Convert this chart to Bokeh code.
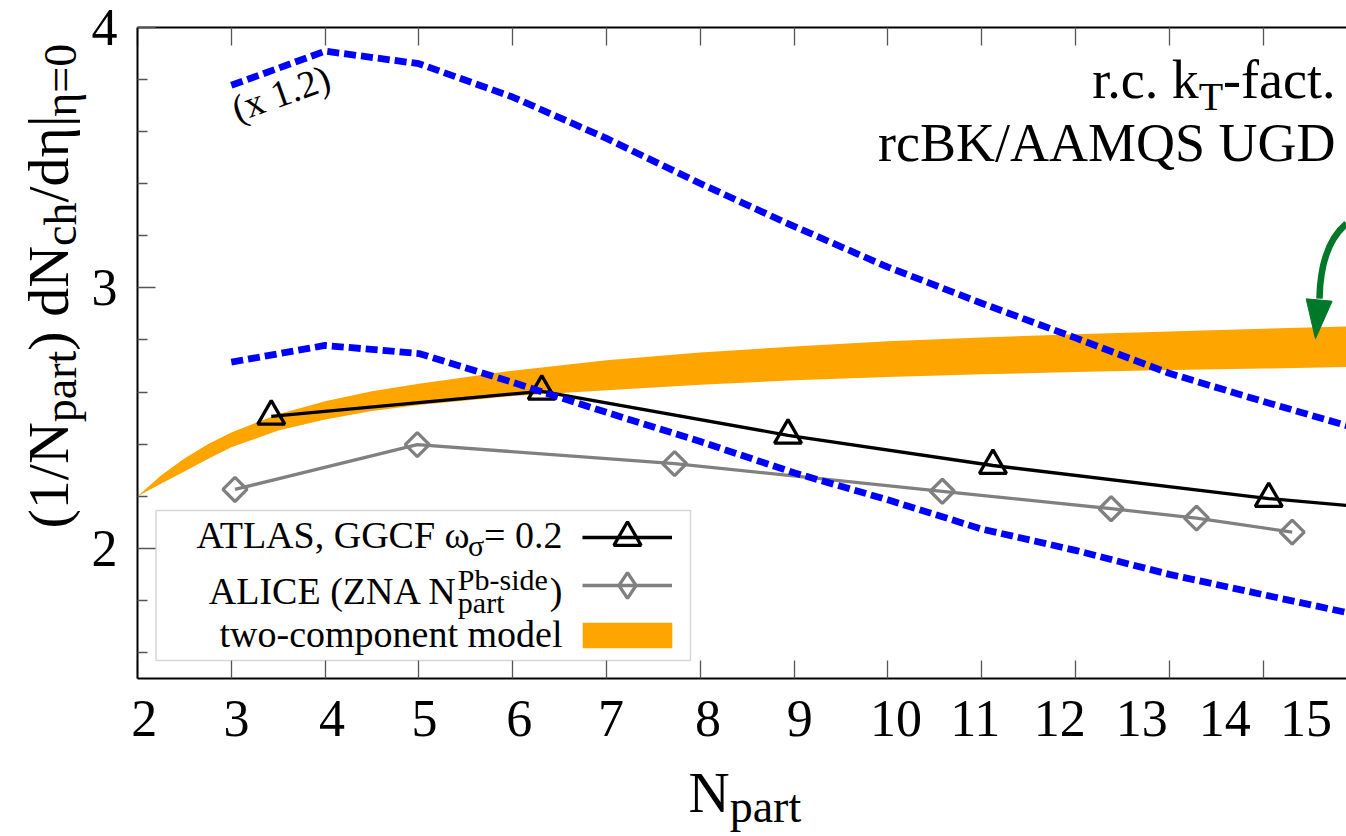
import math
from bokeh.plotting import figure
from bokeh.layouts import row, column
from bokeh.models import (Range1d, FixedTicker, LinearAxis, Label, Legend,
                          LegendItem, BoxAnnotation)
from bokeh.embed import file_html
from bokeh.resources import INLINE

# ---------------- data ----------------
x_tick_values = list(range(2, 16))
x_tick_labels = [str(n) for n in range(2, 16)]
# label positions as printed in the original (they drift from the tick marks)
x_label_positions = [2.073, 3.056, 4.074, 5.061, 6.070, 7.048, 8.083, 9.060,
                     10.086, 10.932, 11.832, 12.707, 13.590, 14.457]
y_major_ticks = [2, 3, 4]
y_minor_ticks = [1.6, 1.8, 2.2, 2.4, 2.6, 2.8, 3.2, 3.4, 3.6, 3.8]

blue_x = [3, 4, 5, 6, 7, 8, 9, 10, 11, 12, 13, 14, 15]
blue_upper_y = [3.778, 3.909, 3.861, 3.733, 3.574, 3.401, 3.236, 3.080,
                2.941, 2.808, 2.672, 2.564, 2.460]
blue_lower_y = [2.715, 2.779, 2.748, 2.637, 2.522, 2.410, 2.290, 2.186,
                2.074, 1.992, 1.900, 1.822, 1.745]

atlas_x = [3.426, 6.310, 8.935, 11.120, 14.060]
atlas_y = [2.507, 2.603, 2.434, 2.318, 2.191]
atlas_curve_x = [3.426, 6.310, 8.935, 11.120, 14.060, 15.0]
atlas_curve_y = [2.507, 2.603, 2.434, 2.318, 2.191, 2.161]

alice_x = [3.039, 4.983, 7.726, 10.580, 12.380, 13.290, 14.310]
alice_y = [2.226, 2.398, 2.325, 2.219, 2.152, 2.116, 2.062]

band_x = [2.0, 2.25, 2.5, 2.75, 3.0, 3.5, 4.0, 4.5, 5.0, 6.0, 7.0, 8.0,
          9.0, 10.0, 11.0, 12.0, 13.0, 14.0, 15.0]
band_hi = [2.20, 2.28, 2.345, 2.40, 2.445, 2.515, 2.565, 2.603, 2.632, 2.682,
           2.722, 2.752, 2.775, 2.795, 2.81, 2.822, 2.833, 2.843, 2.853]
band_lo = [2.20, 2.248, 2.295, 2.343, 2.388, 2.452, 2.495, 2.527, 2.550, 2.585,
           2.607, 2.628, 2.645, 2.658, 2.668, 2.677, 2.685, 2.690, 2.697]

# green annotation arrow (data units)
arrow_curve = dict(x0=[14.889], y0=[3.247], cx=[14.612], cy=[3.163],
                   x1=[14.601], y1=[2.959])
arrow_head_x = [14.459, 14.736, 14.558]
arrow_head_y = [2.958, 2.949, 2.805]

# ---------------- styling ----------------
SERIF = "Liberation Serif"
ORANGE = "#FFA500"
BLUE = "#0000FF"
GRAY = "#808080"
GREEN = "#00782A"
TICK = "#555555"
K_BASE = 0.35     # measured offset of Bokeh's label anchor above the drawn baseline

W_Y = 88          # width of the strip holding the y title
H_MAIN = 758      # height of the main figure
FL, FT, FB = 137.0, 27.0, 678.0   # frame left/top/bottom in page pixels

p = figure(width=1346 - W_Y, height=H_MAIN, output_backend="svg", toolbar_location=None,
           x_range=Range1d(2, 2 + (1346 - FL) / 93.8), y_range=Range1d(1.5, 4.0),
           min_border_left=int(FL - W_Y), min_border_right=0, min_border_top=int(FT),
           min_border_bottom=int(H_MAIN - FB))
p.outline_line_color = None
p.grid.visible = False
# off-screen range used only by the legend swatch renderer
p.extra_x_ranges = {"key": Range1d(100, 101)}

# x axis (bottom)
xa = p.xaxis[0]
xa.ticker = FixedTicker(ticks=x_label_positions, minor_ticks=x_tick_values)
xa.major_label_overrides = {pos: lab for pos, lab in zip(x_label_positions, x_tick_labels)}
xa.major_tick_line_color = None
xa.minor_tick_in = 18
xa.minor_tick_out = 0
xa.minor_tick_line_color = TICK
xa.minor_tick_line_width = 1.3
xa.axis_line_width = 2
xa.axis_line_color = "black"
xa.major_label_text_font = SERIF
xa.major_label_text_font_size = "52px"
xa.major_label_text_color = "black"
xa.major_label_standoff = 16

# y axis (left)
ya = p.yaxis[0]
ya.ticker = FixedTicker(ticks=y_major_ticks, minor_ticks=y_minor_ticks)
ya.major_tick_in = 18
ya.major_tick_out = 0
ya.minor_tick_in = 10
ya.minor_tick_out = 0
ya.major_tick_line_color = TICK
ya.minor_tick_line_color = TICK
ya.major_tick_line_width = 1.3
ya.minor_tick_line_width = 1.3
ya.axis_line_width = 2
ya.axis_line_color = "black"
ya.major_label_text_font = SERIF
ya.major_label_text_font_size = "52px"
ya.major_label_text_color = "black"
ya.major_label_standoff = 20

# top border with mirrored ticks
top = LinearAxis(ticker=FixedTicker(ticks=[], minor_ticks=x_tick_values),
                 major_label_text_font_size="0px", major_label_standoff=0,
                 minor_tick_in=18, minor_tick_out=0, minor_tick_line_color=TICK,
                 minor_tick_line_width=1.3, major_tick_line_color=None,
                 axis_line_width=2, axis_line_color="black")
p.add_layout(top, "above")

# ---------------- glyphs ----------------
r_band = p.varea(x=band_x, y1=band_lo, y2=band_hi, fill_color=ORANGE)

r_alice_line = p.line(alice_x, alice_y, line_color=GRAY, line_width=3.3)
r_alice_pts = p.scatter(alice_x, alice_y, marker="square", size=17, angle=math.pi / 4,
                        line_color=GRAY, line_width=3.3, fill_color=None)
# legend swatch for the open diamonds (legend swatches are drawn unrotated);
# it sits on an off-screen range so it never shows in the plot itself
r_alice_key = p.scatter(alice_x[:1], alice_y[:1], marker="diamond", x_range_name="key",
                        line_color=GRAY, line_width=3.3, fill_color=None)

r_atlas_line = p.line(atlas_curve_x, atlas_curve_y, line_color="black", line_width=3.3)
r_atlas_pts = p.scatter(atlas_x, atlas_y, marker="triangle", size=27,
                        line_color="black", line_width=3.3, fill_color=None)

p.line(blue_x, blue_upper_y, line_color=BLUE, line_width=6.8, line_dash="12 5")
p.line(blue_x, blue_lower_y, line_color=BLUE, line_width=6.8, line_dash="12 5")

p.quadratic(x0=arrow_curve["x0"], y0=arrow_curve["y0"], x1=arrow_curve["x1"],
            y1=arrow_curve["y1"], cx=arrow_curve["cx"], cy=arrow_curve["cy"],
            line_color=GREEN, line_width=6.5)
p.patch(arrow_head_x, arrow_head_y, fill_color=GREEN, line_color=GREEN, line_width=1)


# ---------------- helpers ----------------
W = {' ': 250, '(': 333, ')': 333, ',': 250, '-': 333, '.': 250, '/': 278,
     '=': 564, '|': 200, 'A': 722, 'B': 667, 'C': 667, 'D': 722, 'E': 611,
     'F': 556, 'G': 722, 'I': 333, 'K': 722, 'L': 611, 'M': 889, 'N': 722,
     'P': 556, 'Q': 722, 'S': 556, 'T': 611, 'U': 722, 'Z': 611, 'a': 444,
     'b': 500, 'c': 444, 'd': 500, 'e': 444, 'f': 333, 'h': 500, 'i': 278,
     'k': 500, 'l': 278, 'm': 778, 'n': 500, 'o': 500, 'p': 500, 'r': 333,
     's': 389, 't': 278, 'w': 722, 'x': 500, 'ω': 667, 'σ': 550, 'η': 500}


def tw(s, size):
    return sum(W.get(c, 500) for c in s) / 1000.0 * size


def txt(fig, text, px, py, size, align, angle, ox, oy):
    """Place text with its baseline at page pixel (px, py); (ox, oy) is the
    page position of the figure frame's bottom-left corner."""
    d = K_BASE * size
    ax = px - d * math.sin(angle)
    ay = py - d * math.cos(angle)
    fig.add_layout(Label(x=ax - ox, y=oy - ay, x_units="screen", y_units="screen",
                         text=text, text_font=SERIF, text_font_size=f"{size}px",
                         text_align=align, text_baseline="alphabetic",
                         text_color="black", angle=angle))


def mtxt(text, px, py, size, align="left", angle=0.0):
    txt(p, text, px, py, size, align, angle, FL, FB)


# ---------------- legend ----------------
box = BoxAnnotation(left=155.5 - FL, right=690 - FL, top=FB - 510, bottom=FB - 660,
                    left_units="screen", right_units="screen", top_units="screen",
                    bottom_units="screen", fill_color=None, line_color="#777777",
                    line_width=1.5)
p.add_layout(box)


def glyph_legend(renderers, cx_px, cy_px, gw, gh):
    leg = Legend(items=[LegendItem(label=" ", renderers=renderers)],
                 location=(cx_px - gw / 2 - FL, FB - (cy_px + gh / 2)),
                 glyph_width=int(gw), glyph_height=int(gh), label_width=0,
                 label_height=0, label_standoff=0, padding=0, margin=0, spacing=0,
                 border_line_color=None, background_fill_alpha=0,
                 label_text_font_size="1px")
    p.add_layout(leg, "center")


glyph_legend([r_atlas_line, r_atlas_pts], 627, 536.7, 90, 68)
glyph_legend([r_alice_line, r_alice_key], 627, 585, 90, 64)
glyph_legend([r_band], 627, 634.5, 112, 32)

# ---------------- texts in the plot area ----------------
TR = 54
mtxt("-fact.", 1335, 98.3, TR, "right")
mtxt("T", 1335 - tw("-fact.", TR), 110, 40, "right")
mtxt("r.c. k", 1335 - tw("-fact.", TR) - tw("T", 40), 98.3, TR, "right")
mtxt("rcBK/AAMQS UGD", 1335, 161.7, TR, "right")

mtxt("(x 1.2)", 237, 122, 38, "left", angle=0.34)

LF, LS = 38, 30
RX = 562
mtxt("= 0.2", RX, 547.3, LF, "right")
x_sig = RX - tw("= 0.2", LF)
mtxt("σ", x_sig, 555, LS, "right")
mtxt("ATLAS, GGCF ω", x_sig - tw("σ", LS) + 2, 547.3, LF, "right")
mtxt(")", RX, 603.3, LF, "right")
x_n = RX - tw(")", LF) - tw("Pb-side", LS) - 2
mtxt("Pb-side", x_n, 589, LS, "left")
mtxt("part", x_n, 612, LS, "left")
mtxt("ALICE (ZNA N", x_n, 603.3, LF, "right")
mtxt("two-component model", RX, 646.7, LF, "right")

# ---------------- y title strip ----------------
fy = figure(width=W_Y, height=H_MAIN, output_backend="svg", toolbar_location=None,
            x_range=Range1d(0, 1), y_range=Range1d(0, 1), min_border=0,
            x_axis_location=None, y_axis_location=None)
fy.outline_line_color = None
fy.grid.visible = False

YF, YS = 58, 46
BX, BXS = 68, 76
ypos = 608
for t, fs, bx in [("(1/N", YF, BX), ("part", YS, BXS), (") dN", YF, BX),
                  ("ch", YS, BXS), ("/dη|", YF, BX), ("η=0", YS, BXS)]:
    txt(fy, t, bx, ypos, fs, "left", math.pi / 2, 0, H_MAIN)
    ypos -= tw(t, fs)

# ---------------- x title strip ----------------
H_X = 836 - H_MAIN
fx = figure(width=1346, height=H_X, output_backend="svg", toolbar_location=None,
            x_range=Range1d(0, 1), y_range=Range1d(0, 1), min_border=0,
            x_axis_location=None, y_axis_location=None)
fx.outline_line_color = None
fx.grid.visible = False
txt(fx, "N", 688, 811.7 - H_MAIN, 57, "left", 0.0, 0, H_X)
txt(fx, "part", 688 + tw("N", 57), 822 - H_MAIN, 46, "left", 0.0, 0, H_X)

layout = column(row(fy, p, spacing=0), fx, spacing=0)
open("out.html", "w").write(file_html(layout, INLINE))
